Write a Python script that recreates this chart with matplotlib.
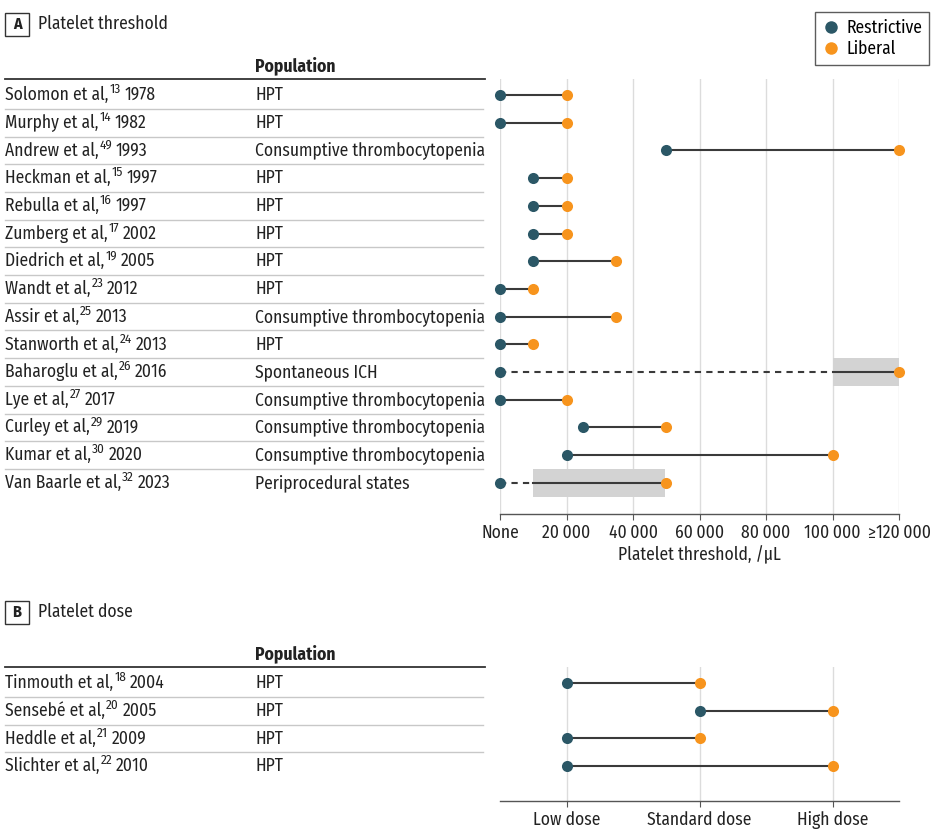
import matplotlib
matplotlib.use("Agg")
import matplotlib.pyplot as plt
from matplotlib.patches import Rectangle
from matplotlib.lines import Line2D
import matplotlib.transforms as mtrans

FONT = 'Fira Sans Condensed'
plt.rcParams['font.family'] = [FONT, 'DejaVu Sans']

# ---------------- data ----------------
a_authors = ["Solomon et al,", "Murphy et al,", "Andrew et al,", "Heckman et al,", "Rebulla et al,",
             "Zumberg et al,", "Diedrich et al,", "Wandt et al,", "Assir et al,", "Stanworth et al,",
             "Baharoglu et al,", "Lye et al,", "Curley et al,", "Kumar et al,", "Van Baarle et al,"]
a_refs = ["13", "14", "49", "15", "16", "17", "19", "23", "25", "24", "26", "27", "29", "30", "32"]
a_years = ["1978", "1982", "1993", "1997", "1997", "2002", "2005", "2012", "2013", "2013",
           "2016", "2017", "2019", "2020", "2023"]
a_population = ["HPT", "HPT", "Consumptive thrombocytopenia", "HPT", "HPT", "HPT", "HPT", "HPT",
                "Consumptive thrombocytopenia", "HPT", "Spontaneous ICH",
                "Consumptive thrombocytopenia", "Consumptive thrombocytopenia",
                "Consumptive thrombocytopenia", "Periprocedural states"]
a_restrictive = [0, 0, 50000, 10000, 10000, 10000, 10000, 0, 0, 0, 0, 0, 25000, 20000, 0]
a_liberal = [20000, 20000, 120000, 20000, 20000, 20000, 35000, 10000, 35000, 10000, 120000,
             20000, 50000, 100000, 50000]
# rows with a range (dashed up to range start, gray band over the range)
a_range_rows = [10, 14]
a_range_lo = [100000, 10000]
a_range_hi = [120000, 49500]
a_ticks = [0, 20000, 40000, 60000, 80000, 100000, 120000]
a_ticklabels = ["None", "20\u2009000", "40\u2009000", "60\u2009000", "80\u2009000",
                "100\u2009000", "\u2265120\u2009000"]

b_authors = ["Tinmouth et al,", "Sensebé et al,", "Heddle et al,", "Slichter et al,"]
b_refs = ["18", "20", "21", "22"]
b_years = ["2004", "2005", "2009", "2010"]
b_population = ["HPT", "HPT", "HPT", "HPT"]
b_restrictive = [1, 2, 1, 1]
b_liberal = [2, 3, 2, 3]
b_ticks = [1, 2, 3]
b_ticklabels = ["Low dose", "Standard dose", "High dose"]

C_RES = "#2b5766"
C_LIB = "#f7941d"
C_LINE = "#3a3a3a"
C_GRID = "#dcdcdc"
C_SEP = "#c8c8c8"
C_TXT = "#222222"
FS = 12.6
FS_SUP = 9.5

W, H = 947, 831
fig = plt.figure(figsize=(W / 100, H / 100), dpi=100)
renderer = fig.canvas.get_renderer()


def px_axes(x0, y0, x1, y1):
    return fig.add_axes([x0 / W, 1 - y1 / H, (x1 - x0) / W, (y1 - y0) / H])


def fx(px):
    return px / W


def fy(py):
    return 1 - py / H


def draw_panel(ax, authors, refs, years, pops, res, lib, ylim, header_py, ranges=None):
    n = len(authors)
    ax.set_ylim(*ylim)
    for s in ["top", "left", "right"]:
        ax.spines[s].set_visible(False)
    ax.spines["bottom"].set_color("#555555")
    ax.spines["bottom"].set_linewidth(1.0)
    ax.set_yticks([])
    ax.tick_params(axis="x", length=4, color="#555555", labelsize=FS, pad=3,
                   labelcolor=C_TXT)
    ax.grid(axis="x", color=C_GRID, linewidth=1.0, zorder=0)
    ax.set_axisbelow(True)

    range_rows = ranges[0] if ranges else []
    for i in range(n):
        if i in range_rows:
            k = range_rows.index(i)
            lo, hi = ranges[1][k], ranges[2][k]
            ax.add_patch(Rectangle((lo, i - 0.5), hi - lo, 1.0, facecolor="#d3d3d3",
                                   edgecolor="none", zorder=1))
            ax.plot([res[i], lo], [i, i], color=C_LINE, lw=1.5, ls=(0, (3, 2.5)), zorder=2)
            ax.plot([lo, lib[i]], [i, i], color=C_LINE, lw=1.5, zorder=2)
        else:
            ax.plot([res[i], lib[i]], [i, i], color=C_LINE, lw=1.5, zorder=2)
    rows = list(range(n))
    ax.plot(res, rows, "o", color=C_RES, ms=8, zorder=3, clip_on=False, mec="none")
    ax.plot(lib, rows, "o", color=C_LIB, ms=8, zorder=3, clip_on=False, mec="none")

    trans = mtrans.blended_transform_factory(fig.transFigure, ax.transData)
    sup_tr = trans + mtrans.ScaledTranslation(0, 3.8 / 72, fig.dpi_scale_trans)
    for i in range(n):
        t1 = ax.text(fx(5), i, authors[i], transform=trans, ha="left", va="center",
                     fontsize=FS, color=C_TXT)
        x1 = t1.get_window_extent(renderer).x1
        t2 = ax.text(x1 / W + 1.0 / W, i, refs[i], transform=sup_tr, ha="left",
                     va="center", fontsize=FS_SUP, color=C_TXT)
        x2 = t2.get_window_extent(renderer).x1
        ax.text(x2 / W + 3.5 / W, i, years[i], transform=trans, ha="left",
                va="center", fontsize=FS, color=C_TXT)
        ax.text(fx(255), i, pops[i], transform=trans, ha="left", va="center",
                fontsize=FS, color=C_TXT)
        if i < n - 1:
            fig.add_artist(Line2D([fx(5), fx(483)], [i + 0.5, i + 0.5], transform=trans,
                                  color=C_SEP, lw=1.0))
    # header
    fig.text(fx(255), fy(header_py - 13), "Population", fontsize=FS, fontweight="bold",
             ha="left", va="center", color=C_TXT)
    fig.add_artist(Line2D([fx(5), fx(485)], [fy(header_py), fy(header_py)], color="#333333",
                          lw=1.3))


def panel_title(py, letter, title):
    fig.add_artist(Rectangle((fx(5), fy(py + 11.5)), 24 / W, 23 / H, transform=fig.transFigure,
                             facecolor="white", edgecolor="#333333", lw=1.0))
    fig.text(fx(17), fy(py), letter, fontsize=11.5, fontweight="bold", ha="center",
             va="center", color=C_TXT)
    fig.text(fx(38), fy(py), title, fontsize=FS, ha="left", va="center", color=C_TXT)


# ---------------- Panel A ----------------
row0, step = 95.0, 27.7
axA = px_axes(500, 79, 899, 514)
axA.set_xlim(0, 120000)
axA.set_xticks(a_ticks)
axA.set_xticklabels(a_ticklabels)
draw_panel(axA, a_authors, a_refs, a_years, a_population, a_restrictive, a_liberal,
           ((514 - row0) / step, (79 - row0) / step), 79,
           ranges=(a_range_rows, a_range_lo, a_range_hi))
axA.set_xlabel("Platelet threshold, /\u00b5L", fontsize=FS, color=C_TXT, labelpad=3)
panel_title(24, "A", "Platelet threshold")

# legend
handles = [Line2D([], [], ls="none", marker="o", ms=9, color=C_RES, mec="none"),
           Line2D([], [], ls="none", marker="o", ms=9, color=C_LIB, mec="none")]
leg = fig.legend(handles, ["Restrictive", "Liberal"], loc="upper right",
                 bbox_to_anchor=(fx(929), fy(12)), frameon=True, fancybox=False,
                 edgecolor="#333333", fontsize=FS, handletextpad=0.3, borderpad=0.4,
                 labelspacing=0.2, handlelength=1.1, borderaxespad=0)
leg.get_frame().set_linewidth(1.0)

# ---------------- Panel B ----------------
rowb = 683.0
axB = px_axes(500, 667, 899, 801)
axB.set_xlim(0.5, 3.5)
axB.set_xticks(b_ticks)
axB.set_xticklabels(b_ticklabels)
draw_panel(axB, b_authors, b_refs, b_years, b_population, b_restrictive, b_liberal,
           ((801 - rowb) / step, (667 - rowb) / step), 667)
panel_title(612, "B", "Platelet dose")

fig.savefig("out.png", dpi=100)
